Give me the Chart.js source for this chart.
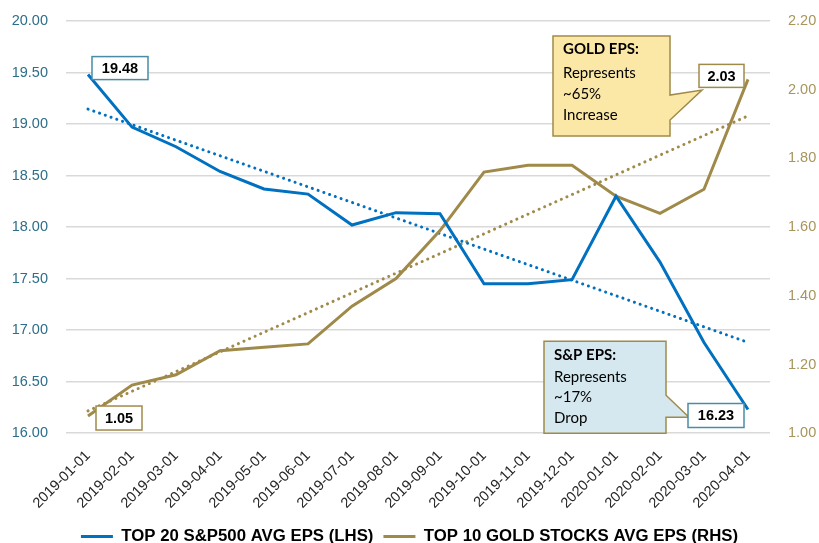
<!DOCTYPE html>
<html>
<head>
<meta charset="utf-8">
<script src="https://cdn.jsdelivr.net/npm/chart.js@4.4.1/dist/chart.umd.min.js"></script>
<style>
  html, body { margin: 0; padding: 0; background: #fff; overflow: hidden; }
  #wrap { width: 819px; height: 555px; }
</style>
</head>
<body>
<div id="wrap"><canvas id="epsChart"></canvas></div>
<script>
// data
const months = ['2019-01-01', '2019-02-01', '2019-03-01', '2019-04-01', '2019-05-01', '2019-06-01',
  '2019-07-01', '2019-08-01', '2019-09-01', '2019-10-01', '2019-11-01', '2019-12-01',
  '2020-01-01', '2020-02-01', '2020-03-01', '2020-04-01'];
const spEps = [19.48, 18.97, 18.78, 18.54, 18.37, 18.32, 18.02, 18.14, 18.13, 17.45, 17.45, 17.49, 18.30, 17.66, 16.88, 16.23];
const goldEps = [1.05, 1.14, 1.17, 1.24, 1.25, 1.26, 1.37, 1.45, 1.59, 1.76, 1.78, 1.78, 1.69, 1.64, 1.71, 2.03];
const seriesNames = ['TOP 20 S&P500 AVG EPS (LHS)', 'TOP 10 GOLD STOCKS AVG EPS (RHS)'];
const goldNote = ['GOLD EPS:', 'Represents', '~65%', 'Increase'];
const spNote = ['S&P EPS:', 'Represents', '~17%', 'Drop'];

const BLUE = '#0070C0';
const GOLD = '#A08A4A';
const TEAL = '#4A8CA6';

// least squares trend line, like the Excel linear trendline
function trend(values) {
  const n = values.length;
  let sx = 0, sy = 0, sxy = 0, sxx = 0;
  values.forEach((v, i) => { sx += i; sy += v; sxy += i * v; sxx += i * i; });
  const b = (n * sxy - sx * sy) / (n * sxx - sx * sx);
  const a = (sy - b * sx) / n;
  return values.map((v, i) => a + b * i);
}

function valueBox(ctx, x, y, w, h, text, border) {
  ctx.fillStyle = '#fff';
  ctx.fillRect(x, y, w, h);
  ctx.strokeStyle = border;
  ctx.lineWidth = 1.5;
  ctx.strokeRect(x, y, w, h);
  ctx.fillStyle = '#000';
  ctx.font = 'bold 14.5px "Liberation Sans", Arial, sans-serif';
  ctx.textAlign = 'center';
  ctx.textBaseline = 'middle';
  ctx.fillText(text, x + w / 2, y + h / 2 + 1);
}

function callout(ctx, l, t, r, b, baseTop, baseBot, tipX, tipY, fill, lines, offs) {
  ctx.beginPath();
  ctx.moveTo(l, t);
  ctx.lineTo(r, t);
  ctx.lineTo(r, baseTop);
  ctx.lineTo(tipX, tipY);
  ctx.lineTo(r, baseBot);
  ctx.lineTo(r, b);
  ctx.lineTo(l, b);
  ctx.closePath();
  ctx.fillStyle = fill;
  ctx.fill();
  ctx.strokeStyle = GOLD;
  ctx.lineWidth = 1.5;
  ctx.stroke();
  ctx.fillStyle = '#000';
  ctx.textAlign = 'left';
  ctx.textBaseline = 'middle';
  lines.forEach((s, i) => {
    ctx.font = (i === 0 ? 'bold ' : '') + '15px Lato, "Open Sans", sans-serif';
    ctx.fillText(s, l + 10, t + offs[i]);
  });
}

const notesPlugin = {
  id: 'notes',
  afterDatasetsDraw(chart) {
    const ctx = chart.ctx;
    const x = chart.scales.x, yl = chart.scales.yLeft, yr = chart.scales.yRight;
    const area = chart.chartArea;
    const last = months.length - 1;
    const x0 = x.getPixelForValue(0), xn = x.getPixelForValue(last);
    ctx.save();
    callout(ctx, xn - 195, area.top + 15, xn - 78, area.top + 115, area.top + 74, area.top + 99,
      xn - 46, area.top + 69, '#FCE8A6', goldNote, [13, 37, 58, 79]);
    callout(ctx, xn - 204, area.bottom - 92, xn - 82, area.bottom, area.bottom - 38, area.bottom - 16,
      xn - 59, area.bottom - 16, '#D5E8EF', spNote, [14, 36, 56, 77]);
    valueBox(ctx, x0 + 4, yl.getPixelForValue(spEps[0]) - 18, 56, 23, spEps[0].toFixed(2), TEAL);
    valueBox(ctx, x0 + 8, yr.getPixelForValue(goldEps[0]) - 10, 46, 24, goldEps[0].toFixed(2), GOLD);
    valueBox(ctx, xn - 49, yr.getPixelForValue(goldEps[last]) - 15, 45, 23, goldEps[last].toFixed(2), GOLD);
    valueBox(ctx, xn - 60, yl.getPixelForValue(spEps[last]) - 6, 56, 24, spEps[last].toFixed(2), TEAL);
    ctx.restore();
  }
};

const tickFont = { family: '"Liberation Sans", Arial, sans-serif', size: 14.5 };

// fixed axis size, and no extra padding from the tick labels
function fixWidth(w) {
  return s => { s.width = w; s.paddingTop = 0; s.paddingBottom = 0; };
}

new Chart(document.getElementById('epsChart'), {
  type: 'line',
  data: {
    labels: months,
    datasets: [
      { label: seriesNames[0], data: spEps, yAxisID: 'yLeft', borderColor: BLUE, backgroundColor: BLUE,
        borderWidth: 3, pointRadius: 0, tension: 0, order: 1 },
      { label: seriesNames[1], data: goldEps, yAxisID: 'yRight', borderColor: GOLD, backgroundColor: GOLD,
        borderWidth: 3, pointRadius: 0, tension: 0, order: 2 },
      { label: 'trend1', data: trend(spEps), yAxisID: 'yLeft', borderColor: BLUE,
        borderWidth: 3, borderDash: [0.1, 6], borderCapStyle: 'round', pointRadius: 0, order: 3 },
      { label: 'trend2', data: trend(goldEps), yAxisID: 'yRight', borderColor: GOLD,
        borderWidth: 3, borderDash: [0.1, 6], borderCapStyle: 'round', pointRadius: 0, order: 4 }
    ]
  },
  options: {
    responsive: true,
    maintainAspectRatio: false,
    animation: false,
    layout: { padding: { top: 21, left: 0, right: 0, bottom: 0 } },
    plugins: {
      tooltip: { enabled: false },
      legend: {
        position: 'bottom',
        labels: {
          usePointStyle: true,
          pointStyle: 'line',
          pointStyleWidth: 32,
          color: '#000',
          padding: 10,
          font: { family: '"Liberation Sans", Arial, sans-serif', size: 16.8, weight: 'bold' },
          filter: item => item.datasetIndex < 2
        }
      }
    },
    scales: {
      x: {
        offset: true,
        grid: { display: false, drawTicks: false },
        border: { display: false },
        ticks: { color: '#262626', font: tickFont, minRotation: 45, maxRotation: 45, padding: 14, autoSkip: false },
        afterFit: s => { s.height = 85; }
      },
      yLeft: {
        position: 'left',
        min: 16, max: 20,
        grid: { color: '#D9D9D9', lineWidth: 1.5, drawTicks: false },
        border: { display: false },
        ticks: { stepSize: 0.5, color: '#2D6E8A', font: tickFont, padding: 18, callback: v => v.toFixed(2) },
        afterFit: fixWidth(66)
      },
      yRight: {
        position: 'right',
        min: 1, max: 2.2,
        grid: { display: false, drawTicks: false },
        border: { display: false },
        ticks: { stepSize: 0.2, color: '#A8955B', font: tickFont, padding: 18, callback: v => v.toFixed(2) },
        afterFit: fixWidth(49)
      }
    }
  },
  plugins: [notesPlugin]
});
</script>
</body>
</html>
